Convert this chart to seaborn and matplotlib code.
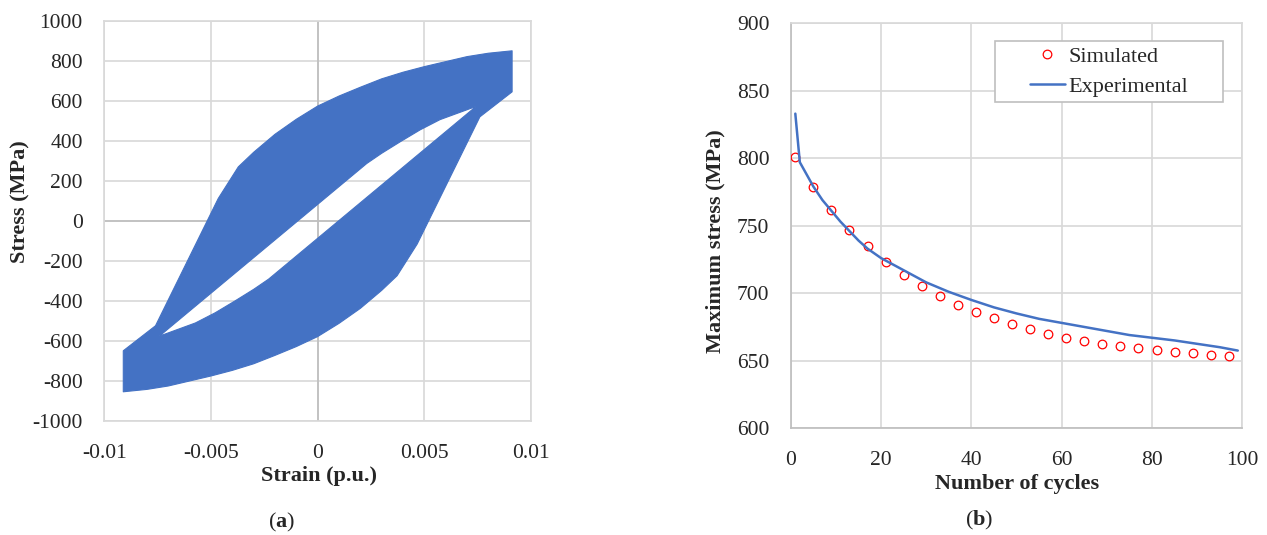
import matplotlib
matplotlib.use("Agg")
import matplotlib.pyplot as plt
import seaborn as sns
from matplotlib.path import Path
from matplotlib.patches import PathPatch, Rectangle

# ---------------- data: panel (a) hysteresis band ----------------
# outer boundary of the band covered by all loops (strain p.u., stress MPa)
outer_strain = [-0.00372, -0.003, -0.002, -0.001, 0.0, 0.001, 0.002, 0.003, 0.004, 0.005,
                0.006, 0.007, 0.008, 0.00911,
                0.00911, 0.0076, 0.00466, 0.00372,
                0.003, 0.002, 0.001, 0.0, -0.001, -0.002, -0.003, -0.004, -0.005,
                -0.006, -0.007, -0.008, -0.00911,
                -0.00911, -0.0076, -0.00466]
outer_stress = [272, 345, 435, 510, 576, 626, 670, 712, 745, 773,
                798, 823, 840, 852,
                647, 522, -114, -272,
                -345, -435, -510, -576, -626, -670, -712, -745, -773,
                -798, -823, -840, -852,
                -647, -522, 114]
# inner (empty) region enclosed by the last loop
hole_strain = [-0.00742, -0.00573, -0.0048, -0.00386, -0.003, -0.0023,
               0.00742, 0.00573, 0.0048, 0.00386, 0.003, 0.0023]
hole_stress = [-574, -508, -457, -397, -340, -289,
               574, 508, 457, 397, 340, 289]

strain_ticks = [-0.01, -0.005, 0, 0.005, 0.01]
strain_labels = ["-0.01", "-0.005", "0", "0.005", "0.01"]
stress_ticks = [-1000, -800, -600, -400, -200, 0, 200, 400, 600, 800, 1000]
stress_labels = ["-1000", "-800", "-600", "-400", "-200", "0", "200", "400", "600", "800", "1000"]

# ---------------- data: panel (b) maximum stress ----------------
sim_cycles = [1, 5, 9, 13, 17, 21, 25, 29, 33, 37, 41, 45, 49, 53, 57, 61, 65, 69, 73, 77,
              81, 85, 89, 93, 97]
sim_stress = [801, 778.7, 761.3, 746.9, 734.7, 723.4, 713.5, 705.4, 697.8, 691.5, 686.2,
              681.4, 677.4, 673.3, 669.8, 667, 664.7, 662.2, 661, 659.4, 657.9, 656.6,
              655.9, 654.4, 653.6]
exp_cycles = [1, 2, 3, 4, 5, 7, 9, 11, 13, 15, 17, 20, 25, 30, 35, 40, 45, 50, 55, 60, 65,
              70, 75, 80, 85, 90, 95, 99]
exp_stress = [833, 797, 791, 785, 779, 769, 761, 753, 746, 739, 733, 726, 717, 708, 701, 695,
              689.5, 685, 681, 678, 675, 672, 669, 667, 665, 662.5, 660, 657.5]

cycle_ticks = [0, 20, 40, 60, 80, 100]
max_ticks = [600, 650, 700, 750, 800, 850, 900]

# ---------------- style ----------------
sns.set_theme(style="white")
plt.rcParams['font.family'] = ['Liberation Serif', 'DejaVu Serif']
plt.rcParams['axes.unicode_minus'] = False
plt.rcParams['mathtext.fontset'] = 'custom'
plt.rcParams['mathtext.rm'] = 'Liberation Serif'
plt.rcParams['mathtext.bf'] = 'Liberation Serif:bold'

FS = 15.5
LFS = 16
GRID = '#d9d9d9'
AXC = '#bfbfbf'
BLUE = '#4472C4'
LW = 1.25

W, H = 1267, 535
fig = plt.figure(figsize=(W / 100, H / 100), dpi=100)
ax1 = fig.add_axes([104.3 / W, (H - 421.4) / H, 426.8 / W, 400.2 / H])
ax2 = fig.add_axes([790.8 / W, (H - 428.2) / H, 451.5 / W, 405.0 / H])

# ---------------- panel (a) ----------------
ax1.set_xlim(-0.01, 0.01)
ax1.set_ylim(-1000, 1000)
ax1.set_xticks(strain_ticks, strain_labels)
ax1.set_yticks(stress_ticks, stress_labels)
ax1.set_axisbelow(True)
ax1.grid(True, color=GRID, lw=LW)
ax1.axvline(0, color=AXC, lw=LW, zorder=1)
ax1.axhline(0, color=AXC, lw=LW, zorder=1)
for s in ax1.spines.values():
    s.set_color(GRID)
    s.set_linewidth(LW)

verts = list(zip(outer_strain, outer_stress)) + [(outer_strain[0], outer_stress[0])]
codes = [Path.MOVETO] + [Path.LINETO] * (len(outer_strain) - 1) + [Path.CLOSEPOLY]
verts += list(zip(hole_strain, hole_stress)) + [(hole_strain[0], hole_stress[0])]
codes += [Path.MOVETO] + [Path.LINETO] * (len(hole_strain) - 1) + [Path.CLOSEPOLY]
band = PathPatch(Path(verts, codes), facecolor=BLUE, edgecolor=BLUE, lw=0.8,
                 joinstyle='round', zorder=3)
ax1.add_patch(band)

ax1.tick_params(axis='both', length=0, labelsize=FS)
ax1.tick_params(axis='y', pad=15.5)
ax1.tick_params(axis='x', pad=16.5)
ax1.set_xlabel("Strain (p.u.)", fontsize=LFS, fontweight='bold')
ax1.set_ylabel("Stress (MPa)", fontsize=LFS, fontweight='bold')
ax1.xaxis.set_label_coords(0.504, -0.1364)
ax1.xaxis.label.set_va('center')
ax1.yaxis.set_label_coords(-0.196, 0.55)
ax1.yaxis.label.set_va('center')

# ---------------- panel (b) ----------------
sns.lineplot(x=sim_cycles, y=sim_stress, ax=ax2, marker='o', linestyle='none',
             markersize=6.2, markerfacecolor='none', markeredgecolor='red',
             markeredgewidth=0.9, color='red', label='Simulated', zorder=3)
sns.lineplot(x=exp_cycles, y=exp_stress, ax=ax2, color=BLUE, lw=1.8,
             label='Experimental', zorder=4)
ax2.set_xlim(0, 100)
ax2.set_ylim(600, 900)
ax2.set_xticks(cycle_ticks, [str(v) for v in cycle_ticks])
ax2.set_yticks(max_ticks, [str(v) for v in max_ticks])
ax2.set_axisbelow(True)
ax2.grid(True, color=GRID, lw=LW)
for k, s in ax2.spines.items():
    s.set_linewidth(LW)
    s.set_color(AXC if k in ('left', 'bottom') else GRID)
ax2.tick_params(axis='both', length=0, labelsize=FS)
ax2.tick_params(axis='y', pad=15.5)
ax2.tick_params(axis='x', pad=16.5)
ax2.set_xlabel("Number of cycles", fontsize=LFS, fontweight='bold')
ax2.set_ylabel("Maximum stress (MPa)", fontsize=LFS, fontweight='bold')
ax2.xaxis.set_label_coords(0.501, -0.139)
ax2.xaxis.label.set_va('center')
ax2.yaxis.set_label_coords(-0.166, 0.462)
ax2.yaxis.label.set_va('center')

ax2.add_patch(Rectangle((0.4527, 0.806), 0.5043, 0.150, transform=ax2.transAxes,
                        facecolor='white', edgecolor=AXC, lw=1.2, zorder=6))
leg = ax2.legend(loc='center', bbox_to_anchor=(0.7048, 0.881), frameon=False,
                 fontsize=LFS, handlelength=1.6, handletextpad=0.15, labelspacing=0.42,
                 borderpad=0.0)
leg.set_zorder(7)

# ---------------- captions ----------------
fig.text(282 / W, 1 - 522 / H, r"$(\mathbf{a})$", fontsize=LFS, ha='center', va='center')
fig.text(979.5 / W, 1 - 520 / H, r"$(\mathbf{b})$", fontsize=LFS, ha='center', va='center')

fig.savefig("out.png", dpi=100)
